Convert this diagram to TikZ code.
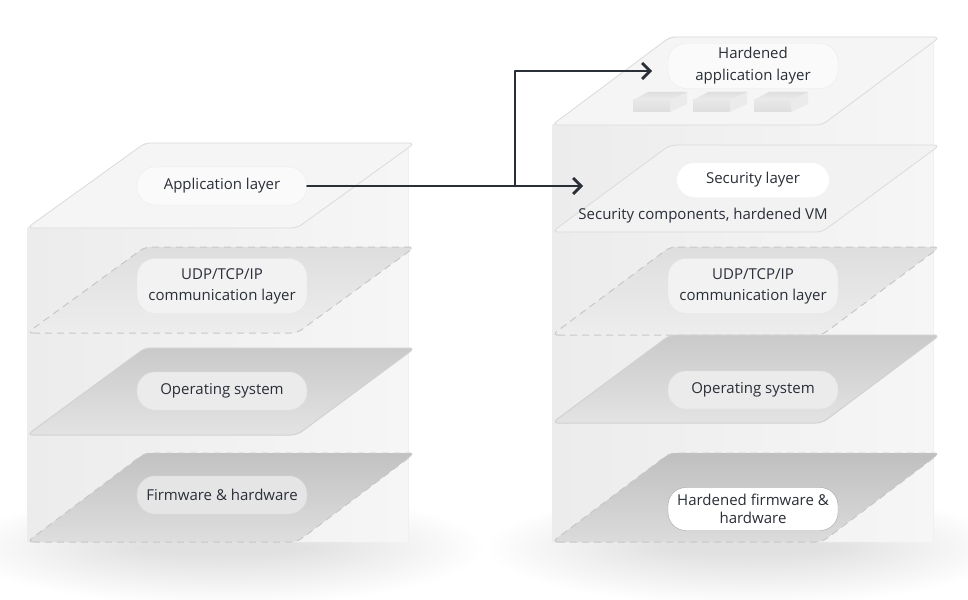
\documentclass[tikz,border=0pt]{standalone}
\usepackage{fontspec}
\setmainfont{Open Sans}
\usetikzlibrary{arrows.meta}
\definecolor{ink}{HTML}{2A2E37}
\definecolor{panelL}{HTML}{ECECEC}
\definecolor{panelR}{HTML}{F6F6F6}
\newcommand\mylayer[4]{%
  \path[#4, rounded corners=6pt] (#1,#3) -- (#1+270,#3) -- (#1+388,#2) -- (#1+118,#2) -- cycle;}
\newcommand\mypanel[3]{%
  \path[left color=panelL, right color=panelR] (#1,#3) -- (#1+118,#2) -- (#1+381,#2) -- (#1+381,542) -- (#1,542) -- cycle;
  \draw[black!6, line width=0.8pt] (#1+381,#2+6) -- (#1+381,542);}
\newcommand\mybrick[1]{%
  \path[fill=black!8] (#1+37,100) -- (#1+54,92) -- (#1+54,104) -- (#1+37,112) -- cycle;
  \path[top color=black!13, bottom color=black!7] (#1,100) -- (#1+15,92) -- (#1+54,92) -- (#1+37,100) -- cycle;
  \path[top color=black!9, bottom color=black!13] (#1,100) rectangle (#1+37,112);}
\newcommand\myglow[2]{%
  \foreach \i in {1,...,30} {\fill[black, opacity=0.005] (#1,#2) ellipse [x radius=80+6*\i, y radius=6+1.7*\i];}}
\begin{document}
\begin{tikzpicture}[x=1pt,y=-1pt,
  pill/.style={rounded corners=18pt, minimum width=170pt, minimum height=38pt, align=center, text=ink, inner sep=2pt, font=\fontsize{15}{21}\selectfont},
  lite/.style={fill=#1, draw=black!14, line width=0.8pt},
  dsh/.style 2 args={top color=#1, bottom color=#2, draw=black!22, line width=1pt, dash pattern=on 7pt off 5pt},
  sld/.style 2 args={top color=#1, bottom color=#2, draw=black!18, line width=1pt},
  conn/.style={draw=ink, line width=2.4pt, line cap=round, line join=round, -{Straight Barb[length=8pt,width=16pt,line width=2.8pt]}},
  plain/.style={draw=ink, line width=2.4pt, line cap=round}]
\useasboundingbox (0,0) rectangle (968,599);
\fill[white] (0,0) rectangle (968,599);
% soft shadows
\myglow{222}{548}
\myglow{748}{548}
% back panels
\mypanel{27}{143}{228}
\mypanel{552}{37}{125}
% left stack
\mylayer{27}{143}{228}{lite=black!4}
\mylayer{27}{247}{333}{dsh={black!13}{black!7}}
\mylayer{27}{348}{435}{sld={black!21}{black!11}}
\mylayer{27}{453}{542}{dsh={black!24}{black!13}}
% right stack
\mylayer{552}{37}{125}{lite=black!4}
\mylayer{552}{145}{232}{lite=black!5}
\mylayer{552}{247}{335}{dsh={black!13}{black!7}}
\mylayer{552}{335}{423}{sld={black!21}{black!11}}
\mylayer{552}{453}{542}{dsh={black!25}{black!14}}
% bricks
\mybrick{633}
\mybrick{693}
\mybrick{754}
% pills left
\node[pill, fill=black!2, draw=black!8] (app) at (222,186) {Application layer};
\node[pill, fill=black!5, draw=black!10, minimum height=55pt] (udpL) at (222,286) {UDP/TCP/IP\\communication layer};
\node[pill, fill=black!8, draw=black!12] (osL) at (222,391) {Operating system};
\node[pill, fill=black!10, draw=black!14] (fwL) at (222,495) {Firmware \& hardware};
% pills right
\node[pill, fill=black!2, draw=black!8, minimum height=45pt, font=\fontsize{15}{22}\selectfont] (happ) at (753,66) {Hardened\\application layer};
\node[pill, fill=white, draw=black!6, minimum width=153pt, minimum height=35pt] (sec) at (753,180) {Security layer};
\node[text=ink, font=\fontsize{15}{18}\selectfont] (secc) at (703,216) {Security components, hardened VM};
\node[pill, fill=black!5, draw=black!10, minimum height=55pt] (udpR) at (753,286) {UDP/TCP/IP\\communication layer};
\node[pill, fill=black!8, draw=black!12] (osR) at (753,390) {Operating system};
\node[pill, fill=white, draw=black!35, minimum height=43pt, font=\fontsize{15}{18}\selectfont] (hfw) at (753,509) {Hardened firmware \&\\hardware};
% connectors
\coordinate (j) at (515,186);
\coordinate (t1) at (652,71);
\coordinate (t2) at (583,186);
\draw[plain] (app.east) -- (j);
\draw[conn] (j) -- (t2);
\draw[conn] (j) |- (t1);
\end{tikzpicture}
\end{document}
